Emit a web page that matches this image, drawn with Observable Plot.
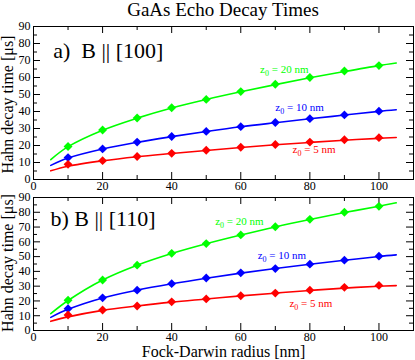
<!DOCTYPE html>
<html><head><meta charset="utf-8">
<script src="https://cdn.jsdelivr.net/npm/d3@7"></script>
<script src="https://cdn.jsdelivr.net/npm/@observablehq/plot@0.6"></script>
<style>
html,body{margin:0;padding:0;background:#fff;}
#wrap{position:relative;width:415px;height:360px;overflow:hidden;font-family:"Liberation Serif",serif;}
#title{position:absolute;left:33px;width:380px;top:0;text-align:center;font-size:19px;line-height:19px;color:#000;z-index:5;}
.panel{position:absolute;left:0;}
</style></head><body>
<div id="wrap">
  <div id="pa" class="panel" style="top:0px"></div>
  <div id="pb" class="panel" style="top:190px"></div>
  <div id="title">GaAs Echo Decay Times</div>
</div>
<script>
// ---- data ----
const radius = [10, 20, 30, 40, 50, 60, 70, 80, 90, 100];
const a_z20 = [19.4, 29.1, 36.2, 42.2, 47.1, 51.7, 56.0, 60.0, 63.8, 67.0];
const a_z10 = [12.9, 18.0, 22.0, 25.3, 28.3, 31.1, 33.5, 35.8, 38.0, 40.2];
const a_z5  = [8.9, 11.1, 13.5, 15.4, 17.2, 19.0, 20.6, 22.0, 23.4, 24.6];
const b_z20 = [20.5, 34.2, 44.2, 52.2, 58.8, 64.7, 70.2, 75.2, 80.0, 84.0];
const b_z10 = [14.8, 22.1, 27.3, 31.7, 35.5, 39.0, 41.9, 44.9, 47.6, 50.3];
const b_z5  = [10.5, 13.9, 16.6, 19.4, 21.4, 23.5, 25.3, 27.3, 29.2, 30.5];

const fitRadius = [5, 10, 20, 30, 40, 50, 60, 70, 80, 90, 100, 105];
const a_z20_fit = [11.7, 19.3, 29.0, 36.1, 42.1, 47.1, 51.6, 55.8, 59.8, 63.5, 67.0, 68.5];
const a_z10_fit = [8.3, 12.6, 17.9, 21.9, 25.2, 28.2, 31.0, 33.4, 35.7, 37.9, 40.1, 41.0];
const a_z5_fit  = [5.1, 7.8, 11.0, 13.4, 15.3, 17.1, 18.8, 20.4, 21.8, 23.1, 24.2, 24.7];
const b_z20_fit = [11.4, 20.3, 34.2, 44.2, 52.1, 58.7, 64.6, 70.1, 75.1, 79.8, 84.1, 86.4];
const b_z10_fit = [8.9, 14.3, 22.0, 27.3, 31.6, 35.4, 38.8, 41.9, 44.8, 47.5, 50.1, 51.2];
const b_z5_fit  = [6.2, 9.2, 13.6, 16.6, 19.2, 21.3, 23.4, 25.3, 27.1, 28.7, 29.9, 30.4];

const seriesNames  = ["z0 = 20 nm", "z0 = 10 nm", "z0 = 5 nm"];
const seriesColors = ["#00ff00", "#0000ff", "#ff0000"];
// label anchor positions (data units) for each panel
const a_labelX = [65.6, 70.0, 75.0];
const a_labelY = [64.8, 42.5, 17.4];
const b_labelX = [52.6, 64.9, 74.1];
const b_labelY = [73.7, 50.5, 18.6];

const panelTitles = ["a)  B || [100]", "b) B || [110]"];
const panelTitleX = [5.7, 4.9];
const panelTitleY = [75.6, 75.5];

const xTicksMajor = [0, 20, 40, 60, 80, 100];
const xTicksMinor = [10, 30, 50, 70, 90];
const yTicksMajor = [0, 10, 20, 30, 40, 50, 60, 70, 80, 90];
const yTicksMinor = [5, 15, 25, 35, 45, 55, 65, 75, 85];
const xLabel = "Fock-Darwin radius [nm]";
const yLabel = "Hahn decay time [μs]";

// ---- drawing ----
const W = 415, ML = 33, MR = 2;
const FW = W - ML - MR;

function panel({height, marginTop, marginBottom, pts, fits, lx, ly, title, tx, ty, ylabDy, withXLabel}) {
  const FH = height - marginTop - marginBottom;
  const pointRows = [], fitRows = [], labelRows = [];
  pts.forEach((arr, s) => arr.forEach((v, i) => pointRows.push({r: radius[i], t: v, c: seriesColors[s]})));
  fits.forEach((arr, s) => arr.forEach((v, i) => fitRows.push({r: fitRadius[i], t: v, s, c: seriesColors[s]})));
  seriesNames.forEach((n, s) => labelRows.push({r: lx[s], t: ly[s], n, c: seriesColors[s]}));
  const marks = [
    Plot.tickY(yTicksMajor, {y: d => d, insetRight: FW - 7, stroke: "#000"}),
    Plot.tickY(yTicksMajor, {y: d => d, insetLeft: FW - 7, stroke: "#000"}),
    Plot.tickY(yTicksMinor, {y: d => d, insetRight: FW - 4, stroke: "#000"}),
    Plot.tickY(yTicksMinor, {y: d => d, insetLeft: FW - 4, stroke: "#000"}),
    Plot.tickX(xTicksMajor, {x: d => d, insetBottom: FH - 7, stroke: "#000"}),
    Plot.tickX(xTicksMajor, {x: d => d, insetTop: FH - 7, stroke: "#000"}),
    Plot.tickX(xTicksMinor, {x: d => d, insetBottom: FH - 4, stroke: "#000"}),
    Plot.tickX(xTicksMinor, {x: d => d, insetTop: FH - 4, stroke: "#000"}),
    Plot.line(fitRows, {x: "r", y: "t", z: "s", stroke: "c", strokeWidth: 1.6, curve: "catmull-rom"}),
    Plot.dot(pointRows, {x: "r", y: "t", fill: "c", symbol: "diamond2", r: 4}),
    Plot.text(labelRows, {x: "r", y: "t", text: "n", fill: "c", fontSize: 11, textAnchor: "start", lineAnchor: "middle"}),
    Plot.text([title], {x: tx, y: ty, text: d => d, fontSize: 22, textAnchor: "start", lineAnchor: "middle", fill: "#000"}),
    Plot.text([yLabel], {frameAnchor: "left", text: d => d, rotate: -90, textAnchor: "middle", lineAnchor: "middle", dx: -26, dy: ylabDy, fontSize: 16, fill: "#000"}),
    Plot.axisX({ticks: xTicksMajor, tickSize: 0, tickPadding: 2, fontSize: 12, label: null, fill: "#000"}),
    Plot.axisY({ticks: yTicksMajor, tickSize: 0, tickPadding: 3, fontSize: 12, label: null, fill: "#000"}),
    Plot.frame({stroke: "#000", strokeWidth: 1})
  ];
  if (withXLabel) marks.push(Plot.text([xLabel], {frameAnchor: "bottom", text: d => d, textAnchor: "middle", lineAnchor: "middle", dy: 21, fontSize: 16, fill: "#000"}));
  return Plot.plot({
    width: W, height, marginLeft: ML, marginRight: MR, marginTop, marginBottom,
    x: {domain: [0, 110]}, y: {domain: [0, 90]},
    color: {type: "identity"},
    style: {fontFamily: "Liberation Serif", fontSize: "12px", background: "transparent", color: "#000", overflow: "visible"},
    marks
  });
}

document.getElementById("pa").append(panel({
  height: 200, marginTop: 26, marginBottom: 21,
  pts: [a_z20, a_z10, a_z5], fits: [a_z20_fit, a_z10_fit, a_z5_fit],
  lx: a_labelX, ly: a_labelY, title: panelTitles[0], tx: panelTitleX[0], ty: panelTitleY[0],
  ylabDy: 1.5, withXLabel: false
}));
document.getElementById("pb").append(panel({
  height: 170, marginTop: 7, marginBottom: 30,
  pts: [b_z20, b_z10, b_z5], fits: [b_z20_fit, b_z10_fit, b_z5_fit],
  lx: b_labelX, ly: b_labelY, title: panelTitles[1], tx: panelTitleX[1], ty: panelTitleY[1],
  ylabDy: -1, withXLabel: true
}));

// subscript the "0" in z0 labels
const NS = "http://www.w3.org/2000/svg";
document.querySelectorAll("text").forEach(t => {
  const s = t.textContent;
  if (s.startsWith("z0") && t.childElementCount === 0) {
    t.textContent = "";
    const a = document.createElementNS(NS, "tspan"); a.textContent = "z";
    const b = document.createElementNS(NS, "tspan"); b.textContent = "0"; b.setAttribute("dy", "3"); b.setAttribute("font-size", "8");
    const c = document.createElementNS(NS, "tspan"); c.textContent = s.slice(2); c.setAttribute("dy", "-3");
    t.append(a, b, c);
  }
});
</script>
</body></html>
